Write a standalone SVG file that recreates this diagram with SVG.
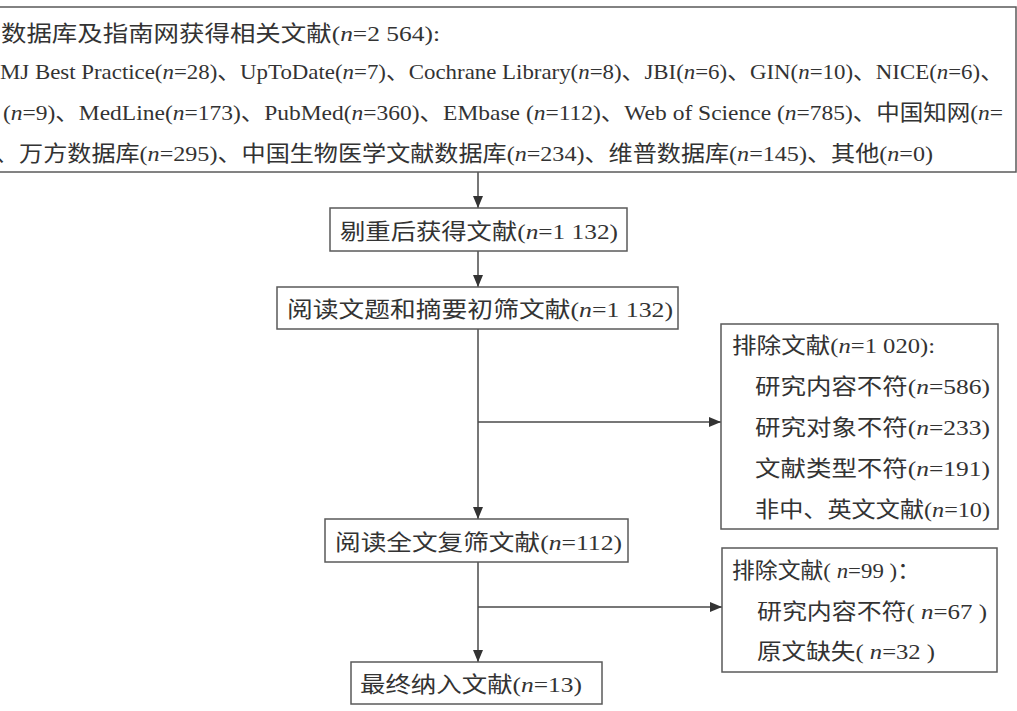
<svg xmlns="http://www.w3.org/2000/svg" width="1017" height="711" viewBox="0 0 1017 711">
<style>
.box{fill:#fff;stroke:#5a5a5a;stroke-width:1.5}
.t{font-family:"Liberation Serif","Noto Sans CJK SC",serif;font-size:22px;fill:#333}
.i{font-style:italic}
.ln{stroke:#4a4a4a;stroke-width:1.5;fill:none}
</style>
<defs>
<marker id="ah" viewBox="0 0 12 10" refX="12" refY="5" markerWidth="12" markerHeight="10" markerUnits="userSpaceOnUse" orient="auto">
<path d="M0,0 L12,5 L0,10 z" fill="#333"/>
</marker>
</defs>
<rect width="1017" height="711" fill="#fff"/>
<g id="connectors">
<line class="ln" x1="478" y1="172" x2="478" y2="208" marker-end="url(#ah)"/>
<line class="ln" x1="478" y1="251" x2="478" y2="287" marker-end="url(#ah)"/>
<line class="ln" x1="478" y1="329" x2="478" y2="519" marker-end="url(#ah)"/>
<line class="ln" x1="478" y1="422" x2="721" y2="422" marker-end="url(#ah)"/>
<line class="ln" x1="478" y1="562" x2="478" y2="662" marker-end="url(#ah)"/>
<line class="ln" x1="478" y1="607" x2="722" y2="607" marker-end="url(#ah)"/>
</g>
<g id="sources">
<rect class="box" x="-10" y="7" width="1026" height="165"/>
<text class="t" x="1" y="41" textLength="439" lengthAdjust="spacingAndGlyphs">数据库及指南网获得相关文献(<tspan class="i">n</tspan>=2 564):</text>
<text class="t" x="0" y="79" textLength="1003" lengthAdjust="spacingAndGlyphs">MJ Best Practice(<tspan class="i">n</tspan>=28)、UpToDate(<tspan class="i">n</tspan>=7)、Cochrane Library(<tspan class="i">n</tspan>=8)、JBI(<tspan class="i">n</tspan>=6)、GIN(<tspan class="i">n</tspan>=10)、NICE(<tspan class="i">n</tspan>=6)、</text>
<text class="t" x="3" y="120" textLength="1000" lengthAdjust="spacingAndGlyphs">(<tspan class="i">n</tspan>=9)、MedLine(<tspan class="i">n</tspan>=173)、PubMed(<tspan class="i">n</tspan>=360)、EMbase (<tspan class="i">n</tspan>=112)、Web of Science (<tspan class="i">n</tspan>=785)、中国知网(<tspan class="i">n</tspan>=</text>
<text class="t" x="-5" y="161" textLength="938" lengthAdjust="spacingAndGlyphs">、万方数据库(<tspan class="i">n</tspan>=295)、中国生物医学文献数据库(<tspan class="i">n</tspan>=234)、维普数据库(<tspan class="i">n</tspan>=145)、其他(<tspan class="i">n</tspan>=0)</text>
</g>
<g id="dedup">
<rect class="box" x="330" y="208" width="297" height="43"/>
<text class="t" x="340" y="239" textLength="278" lengthAdjust="spacingAndGlyphs">剔重后获得文献(<tspan class="i">n</tspan>=1 132)</text>
</g>
<g id="screen1">
<rect class="box" x="277" y="287" width="401" height="42"/>
<text class="t" x="287" y="317" textLength="386" lengthAdjust="spacingAndGlyphs">阅读文题和摘要初筛文献(<tspan class="i">n</tspan>=1 132)</text>
</g>
<g id="exclude1">
<rect class="box" x="721" y="324" width="277" height="205"/>
<text class="t" x="732" y="353" textLength="203" lengthAdjust="spacingAndGlyphs">排除文献(<tspan class="i">n</tspan>=1 020):</text>
<text class="t" x="755" y="394" textLength="235" lengthAdjust="spacingAndGlyphs">研究内容不符(<tspan class="i">n</tspan>=586)</text>
<text class="t" x="755" y="435" textLength="235" lengthAdjust="spacingAndGlyphs">研究对象不符(<tspan class="i">n</tspan>=233)</text>
<text class="t" x="755" y="476" textLength="235" lengthAdjust="spacingAndGlyphs">文献类型不符(<tspan class="i">n</tspan>=191)</text>
<text class="t" x="755" y="517" textLength="235" lengthAdjust="spacingAndGlyphs">非中、英文文献(<tspan class="i">n</tspan>=10)</text>
</g>
<g id="screen2">
<rect class="box" x="325" y="519" width="303" height="43"/>
<text class="t" x="335" y="550" textLength="287" lengthAdjust="spacingAndGlyphs">阅读全文复筛文献(<tspan class="i">n</tspan>=112)</text>
</g>
<g id="exclude2">
<rect class="box" x="722" y="548" width="275" height="124"/>
<text class="t" x="732" y="578" textLength="188" lengthAdjust="spacingAndGlyphs">排除文献( <tspan class="i">n</tspan>=99 )：</text>
<text class="t" x="757" y="619" textLength="230" lengthAdjust="spacingAndGlyphs">研究内容不符( <tspan class="i">n</tspan>=67 )</text>
<text class="t" x="757" y="659" textLength="178" lengthAdjust="spacingAndGlyphs">原文缺失( <tspan class="i">n</tspan>=32 )</text>
</g>
<g id="included">
<rect class="box" x="351" y="662" width="251" height="42"/>
<text class="t" x="360" y="692" textLength="222" lengthAdjust="spacingAndGlyphs">最终纳入文献(<tspan class="i">n</tspan>=13)</text>
</g>
</svg>
